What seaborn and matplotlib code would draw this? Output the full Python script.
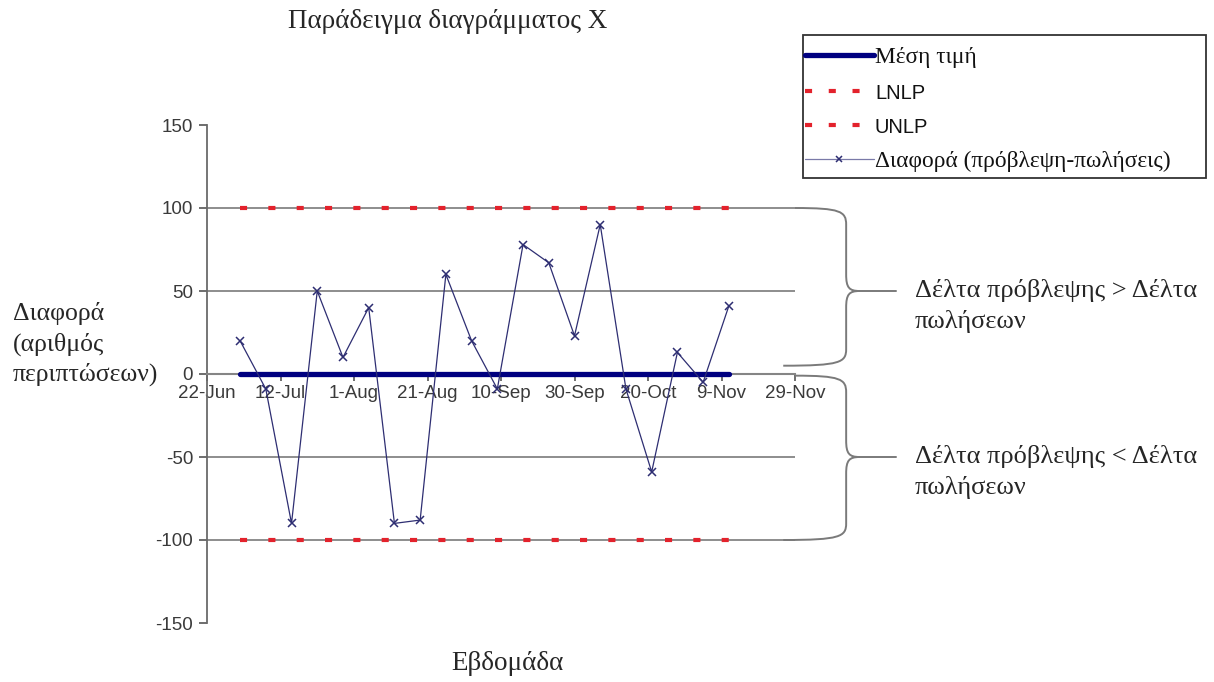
import matplotlib
matplotlib.use("Agg")
import matplotlib.pyplot as plt
from matplotlib.path import Path
from matplotlib.patches import PathPatch, Rectangle
from matplotlib.lines import Line2D
from matplotlib.transforms import blended_transform_factory
import seaborn as sns
import pandas as pd

# Weekly forecast-minus-sales differences
weeks = ["2007-07-01", "2007-07-08", "2007-07-15", "2007-07-22", "2007-07-29",
         "2007-08-05", "2007-08-12", "2007-08-19", "2007-08-26", "2007-09-02",
         "2007-09-09", "2007-09-16", "2007-09-23", "2007-09-30", "2007-10-07",
         "2007-10-14", "2007-10-21", "2007-10-28", "2007-11-04", "2007-11-11"]
difference = [20, -9, -90, 50, 10, 40, -90, -88, 60, 20,
              -9, 78, 67, 23, 90, -9, -59, 13, -5, 41]
mean_value = 0
lnlp_value = -100
unlp_value = 100

tick_dates = ["2007-06-22", "2007-07-12", "2007-08-01", "2007-08-21", "2007-09-10",
              "2007-09-30", "2007-10-20", "2007-11-09", "2007-11-29"]
tick_labels = ["22-Jun", "12-Jul", "1-Aug", "21-Aug", "10-Sep",
               "30-Sep", "20-Oct", "9-Nov", "29-Nov"]
y_ticks = [-150, -100, -50, 0, 50, 100, 150]

legend_labels = ["Μέση τιμή", "LNLP", "UNLP", "Διαφορά (πρόβλεψη-πωλήσεις)"]
title_text = "Παράδειγμα διαγράμματος X"
ylabel_text = "Διαφορά\n(αριθμός\nπεριπτώσεων)"
xlabel_text = "Εβδομάδα"
upper_note = ["Δέλτα πρόβλεψης > Δέλτα", "πωλήσεων"]
lower_note = ["Δέλτα πρόβλεψης < Δέλτα", "πωλήσεων"]

sns.set_theme(style="white")
plt.rcParams["font.family"] = ["Liberation Serif", "DejaVu Serif"]

SERIF = ["Liberation Serif", "DejaVu Serif"]
SANS = ["Liberation Sans", "DejaVu Sans"]
NAVY = "#000080"
SERIES = "#2e2e72"
RED = "#e3222c"
GRID = "#858585"
BRACE = "#7a7a7a"

df = pd.DataFrame({"week": pd.to_datetime(weeks), "diff": difference})
df["mean"] = mean_value
df["lnlp"] = lnlp_value
df["unlp"] = unlp_value

W, H = 1214, 682
fig = plt.figure(figsize=(W / 100, H / 100), dpi=100)
ax = fig.add_axes([207 / W, 1 - 623 / H, 588 / W, 498 / H])

# Reference grid lines at +/-50 and +/-100
for yv in [-100, -50, 50, 100]:
    ax.axhline(yv, color=GRID, lw=1.3, zorder=1)

sns.lineplot(data=df, x="week", y="mean", ax=ax, color=NAVY, lw=3.8,
             solid_capstyle="round", zorder=3)
dots = (0, (1.7, 5.1))
sns.lineplot(data=df, x="week", y="lnlp", ax=ax, color=RED, lw=3.0,
             linestyle=dots, zorder=3)
sns.lineplot(data=df, x="week", y="unlp", ax=ax, color=RED, lw=3.0,
             linestyle=dots, zorder=3)
for ln in ax.lines[-2:]:
    ln.set_dash_capstyle("butt")
sns.lineplot(data=df, x="week", y="diff", ax=ax, color=SERIES, lw=0.9,
             marker="x", markersize=6, markeredgewidth=1.1,
             markeredgecolor=SERIES, zorder=4)

ax.set_xlim(pd.Timestamp(tick_dates[0]), pd.Timestamp(tick_dates[-1]))
ax.set_ylim(-150, 150)
ax.set_xticks(pd.to_datetime(tick_dates), tick_labels)
ax.set_yticks(y_ticks, [str(v) for v in y_ticks])
ax.set_xlabel("")
ax.set_ylabel("")

for side in ["top", "right"]:
    ax.spines[side].set_visible(False)
ax.spines["bottom"].set_position(("data", 0))
ax.spines["bottom"].set_color(GRID)
ax.spines["bottom"].set_linewidth(1.5)
ax.spines["left"].set_color("#6a6a6a")
ax.spines["left"].set_linewidth(1.3)
ax.tick_params(axis="x", direction="out", length=5, width=1.2, color="#555555",
               pad=3, labelsize=13.5, labelcolor="#3a3a3a", bottom=True)
ax.tick_params(axis="y", direction="out", length=6, width=1.2, color="#555555",
               pad=4, labelsize=13.5, labelcolor="#3a3a3a", left=True)
for t in ax.get_xticklabels() + ax.get_yticklabels():
    t.set_family(SANS)


# Curly braces marking the regions above and below the mean line
def brace(y_top, y_bot, y_tip):
    tr = blended_transform_factory(ax.transAxes, ax.transData)
    xa, xb, xc, xd = 1.0, 1.087, 1.11, 1.173
    r = 10
    verts = [
        (xa, y_top),
        (xb - 0.01, y_top), (xb, y_top - 2), (xb, y_top - r),
        (xb, y_tip + r),
        (xb, y_tip + 2), (xb + 0.005, y_tip), (xc, y_tip),
        (xd, y_tip),
        (xc, y_tip),
        (xb + 0.005, y_tip), (xb, y_tip - 2), (xb, y_tip - r),
        (xb, y_bot + r),
        (xb, y_bot + 2), (xb - 0.01, y_bot), (xa - 0.02, y_bot),
    ]
    codes = [Path.MOVETO,
             Path.CURVE4, Path.CURVE4, Path.CURVE4,
             Path.LINETO,
             Path.CURVE4, Path.CURVE4, Path.CURVE4,
             Path.LINETO,
             Path.MOVETO,
             Path.CURVE4, Path.CURVE4, Path.CURVE4,
             Path.LINETO,
             Path.CURVE4, Path.CURVE4, Path.CURVE4]
    patch = PathPatch(Path(verts, codes), facecolor="none", edgecolor=BRACE,
                      lw=1.4, transform=tr, clip_on=False)
    ax.add_patch(patch)


upper_tip = (unlp_value + mean_value) / 2
lower_tip = (lnlp_value + mean_value) / 2
brace(unlp_value, mean_value + 5, upper_tip)
brace(mean_value - 1, lnlp_value, lower_tip)

tr_note = blended_transform_factory(ax.transAxes, ax.transData)
for tip, lines in [(upper_tip, upper_note), (lower_tip, lower_note)]:
    for i, line in enumerate(lines):
        ax.text(1.204, tip - 18.5 * i, line, transform=tr_note,
                ha="left", va="center", fontsize=19, family=SERIF,
                clip_on=False)

fig.text(448 / W, 1 - 22 / H, title_text, ha="center", va="center",
         fontsize=19.5, family=SERIF)
fig.text(13 / W, 1 - 344 / H, ylabel_text, ha="left", va="center",
         fontsize=18.5, family=SERIF, linespacing=1.4)
fig.text(507 / W, 1 - 663 / H, xlabel_text, ha="center", va="center",
         fontsize=19.5, family=SERIF)

# Legend box
fig.patches.append(Rectangle((803 / W, 1 - 178 / H), 403 / W, 143 / H,
                             transform=fig.transFigure, facecolor="white",
                             edgecolor="#333333", lw=1.3, zorder=5))
handles = [
    Line2D([], [], color=NAVY, lw=3.8),
    Line2D([], [], color=RED, lw=3.0, linestyle=(0, (1.7, 4.0)), dash_capstyle="butt"),
    Line2D([], [], color=RED, lw=3.0, linestyle=(0, (1.7, 4.0)), dash_capstyle="butt"),
    Line2D([], [], color="#7a7aa8", lw=0.9, marker="x", markersize=5,
           markeredgecolor=SERIES, markeredgewidth=1.1),
]
leg = fig.legend(handles, legend_labels, loc="upper left",
                 bbox_to_anchor=(805 / W, 1 - 47 / H), borderaxespad=0,
                 frameon=False, fontsize=16.8,
                 handlelength=2.95, handletextpad=0.05, labelspacing=0.6,
                 borderpad=0.0)
leg.set_zorder(6)
for txt, lab in zip(leg.get_texts(), legend_labels):
    if lab in ("LNLP", "UNLP"):
        txt.set_family(SANS)
        txt.set_fontsize(14.5)
    else:
        txt.set_family(SERIF)
    txt.set_color("#111111")

fig.savefig("out.png", dpi=100)
